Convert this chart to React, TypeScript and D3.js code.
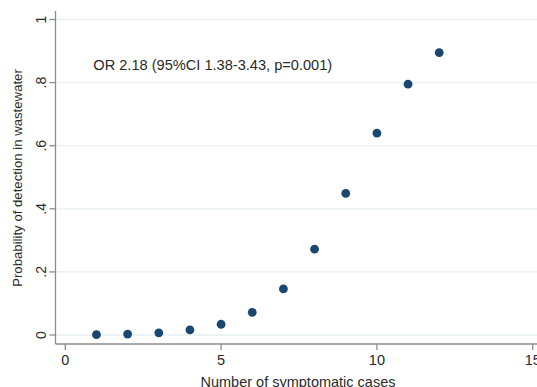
import React from "react";
import * as d3 from "d3";

const cases = [1, 2, 3, 4, 5, 6, 7, 8, 9, 10, 11, 12];
const probability = [0.001, 0.003, 0.007, 0.016, 0.034, 0.072, 0.146, 0.272, 0.449, 0.64, 0.795, 0.895];
const xTicks = [0, 5, 10, 15];
const yTicks = [0, 0.2, 0.4, 0.6, 0.8, 1];
const yTickLabels = ["0", ".2", ".4", ".6", ".8", "1"];
const annotation = "OR 2.18 (95%CI 1.38-3.43, p=0.001)";
const xTitle = "Number of symptomatic cases";
const yTitle = "Probability of detection in wastewater";

const W = 537;
const H = 387;
const font = "'Liberation Sans', Arial, sans-serif";

export default function App() {
  const x = d3.scaleLinear().domain([0, 15]).range([65.3, 532.7]);
  const y = d3.scaleLinear().domain([0, 1]).range([335, 19.5]);
  const axisLeft = 55.5;
  const axisBottom = 344;
  const axisColor = "#8c8c8c";
  const navy = "#1a476f";
  const textColor = "#2a2a2a";

  return (
    <svg
      width={W}
      height={H}
      style={{ position: "absolute", left: 0, top: 0, background: "#fff" }}
      fontFamily={font}
    >
      <rect x={0} y={0} width={W} height={H} fill="#fff" />
      {yTicks.map((t) => (
        <line key={"g" + t} x1={axisLeft} x2={W} y1={y(t)} y2={y(t)} stroke="#e6eff2" strokeWidth={1.3} />
      ))}
      <line x1={axisLeft} x2={axisLeft} y1={11} y2={axisBottom} stroke={axisColor} strokeWidth={1.3} />
      <line x1={axisLeft} x2={W} y1={axisBottom} y2={axisBottom} stroke={axisColor} strokeWidth={1.3} />
      {yTicks.map((t, i) => (
        <g key={"y" + t}>
          <line x1={axisLeft - 6} x2={axisLeft} y1={y(t)} y2={y(t)} stroke={axisColor} strokeWidth={1.3} />
          <text
            transform={`translate(45.5,${y(t)}) rotate(-90)`}
            textAnchor="middle"
            fontSize={14}
            fill={textColor}
          >
            {yTickLabels[i]}
          </text>
        </g>
      ))}
      {xTicks.map((t) => (
        <g key={"x" + t}>
          <line x1={x(t)} x2={x(t)} y1={axisBottom} y2={axisBottom + 6} stroke={axisColor} strokeWidth={1.3} />
          <text x={x(t)} y={364.5} textAnchor="middle" fontSize={14.5} fill={textColor}>
            {t}
          </text>
        </g>
      ))}
      {cases.map((c, i) => (
        <circle key={"p" + c} cx={x(c)} cy={y(probability[i])} r={4.4} fill={navy} />
      ))}
      <text x={93.3} y={70.2} fontSize={14.6} fill={textColor}>
        {annotation}
      </text>
      <text x={298} y={386.5} textAnchor="middle" fontSize={14.5} fill={textColor}>
        {xTitle}
      </text>
      <text transform={`translate(22,178) rotate(-90)`} textAnchor="middle" fontSize={13.2} fill={textColor}>
        {yTitle}
      </text>
    </svg>
  );
}
